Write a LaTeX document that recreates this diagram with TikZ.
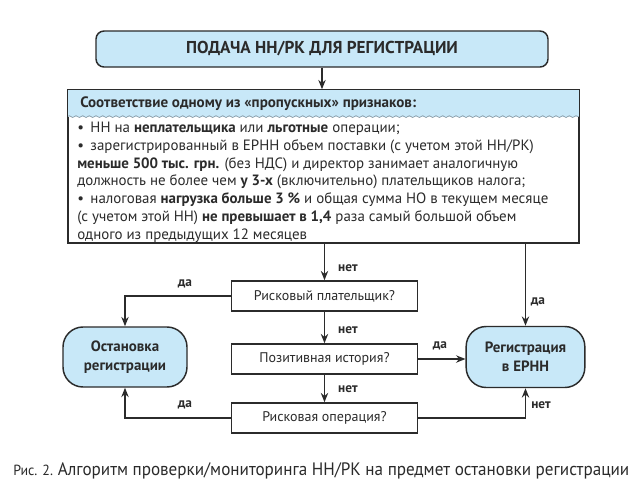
\documentclass[tikz,border=0pt]{standalone}
\usepackage{fontspec}
\setmainfont{PT Sans}
\newfontfamily\capfont[FakeStretch=0.95]{PT Sans}
\usetikzlibrary{arrows.meta,decorations.pathmorphing}
\definecolor{lblue}{HTML}{C8E8F8}
\definecolor{dline}{HTML}{2B2B2B}
\definecolor{wave}{HTML}{8A9AA4}
\begin{document}
\begin{tikzpicture}[x=0.75pt,y=-0.75pt,
  qbox/.style={draw=dline,line width=1.1pt,fill=white,minimum width=139.5pt,minimum height=22.5pt,inner sep=0pt,font=\fontsize{10.5}{12}\selectfont,text=dline},
  term/.style={draw=dline,line width=1.1pt,fill=lblue,rounded corners=15pt,align=center,inner sep=0pt,font=\bfseries\fontsize{11.2}{14}\selectfont,text=dline},
  arr/.style={draw=dline,line width=1.4pt,-{Stealth[length=7pt,width=5.5pt]}},
  lbl/.style={font=\bfseries\fontsize{10}{12}\selectfont,text=dline,inner sep=0pt}
]
\useasboundingbox[fill=white] (0,0) rectangle (640,490);

% top box
\node[draw=dline,line width=1.1pt,fill=lblue,rounded corners=6pt,minimum width=339pt,minimum height=27pt,
      font=\bfseries\fontsize{12.9}{14}\selectfont,text=dline] (top) at (322,49) {ПОДАЧА НН/РК ДЛЯ РЕГИСТРАЦИИ};

% main box
\node[draw=dline,line width=1.1pt,fill=white,minimum width=383.25pt,minimum height=114.75pt] (main) at (323.5,166.5) {};
\fill[lblue] (main.north west) rectangle ([yshift=-20.5pt]main.north east);
\draw[wave,line width=0.5pt,decorate,decoration={snake,amplitude=0.7pt,segment length=5pt}]
  ([yshift=-20.5pt]main.north west) -- ([yshift=-20.5pt]main.north east);
\draw[dline,line width=1.1pt] (main.north west) rectangle (main.south east);

\node[anchor=west,font=\bfseries\fontsize{11.3}{12}\selectfont,text=dline,inner sep=0pt] (hdr) at (80,104)
  {Соответствие одному из «пропускных» признаков:};
\node[anchor=north west,align=left,inner sep=0pt,font=\fontsize{11.2}{13.3}\selectfont,text=dline] (body) at (77,122)
  {•\, НН на \textbf{неплательщика} или \textbf{льготные} операции;\\
   •\, зарегистрированный в ЕРНН объем поставки (с учетом этой НН/РК)\\
   \textbf{меньше 500 тыс. грн.} (без НДС) и директор занимает аналогичную\\
   должность не более чем \textbf{у 3-х} (включительно) плательщиков налога;\\
   •\, налоговая \textbf{нагрузка больше 3 \%} и общая сумма НО в текущем месяце\\
   (с учетом этой НН) \textbf{не превышает в 1,4} раза самый большой объем\\
   одного из предыдущих 12 месяцев};

% decisions
\node[qbox] (q1) at (324.5,296) {Рисковый плательщик?};
\node[qbox] (q2) at (324.5,359) {Позитивная история?};
\node[qbox] (q3) at (324.5,418) {Рисковая операция?};

% terminals
\node[term,minimum width=93pt,minimum height=45pt] (stop) at (125,357) {Остановка\\регистрации};
\node[term,minimum width=89pt,minimum height=45.75pt] (reg) at (525.5,357) {Регистрация\\в ЕРНН};

% connectors
\draw[arr] (top.south) -- (top.south |- main.north);
\draw[arr] (main.south -| q1.north) -- (q1.north);
\draw[arr] (main.south -| reg.north) -- (reg.north);
\draw[arr] (q1.west) -| (stop.north);
\draw[arr] (q1.south) -- (q2.north);
\draw[arr] (q2.south) -- (q3.north);
\draw[arr] (q2.east) -- (q2.east -| reg.west);
\draw[arr] (q3.west) -| (stop.south);
\draw[arr] (q3.east) -| (reg.south);

% labels
\node[lbl] (l1) at (348,268) {нет};
\node[lbl] (l2) at (185,284) {да};
\node[lbl] (l3) at (538,302) {да};
\node[lbl] (l4) at (348,330) {нет};
\node[lbl] (l5) at (440,346) {да};
\node[lbl] (l6) at (348,389) {нет};
\node[lbl] (l7) at (185,405) {да};
\node[lbl] (l8) at (541,405) {нет};

% caption
\node[anchor=west,inner sep=0pt,text=dline] (cap) at (13,471)
  {\capfont\fontsize{11}{12}\selectfont Рис. 2. \fontsize{13.5}{15}\selectfont Алгоритм проверки/мониторинга НН/РК на предмет остановки регистрации};
\end{tikzpicture}
\end{document}
